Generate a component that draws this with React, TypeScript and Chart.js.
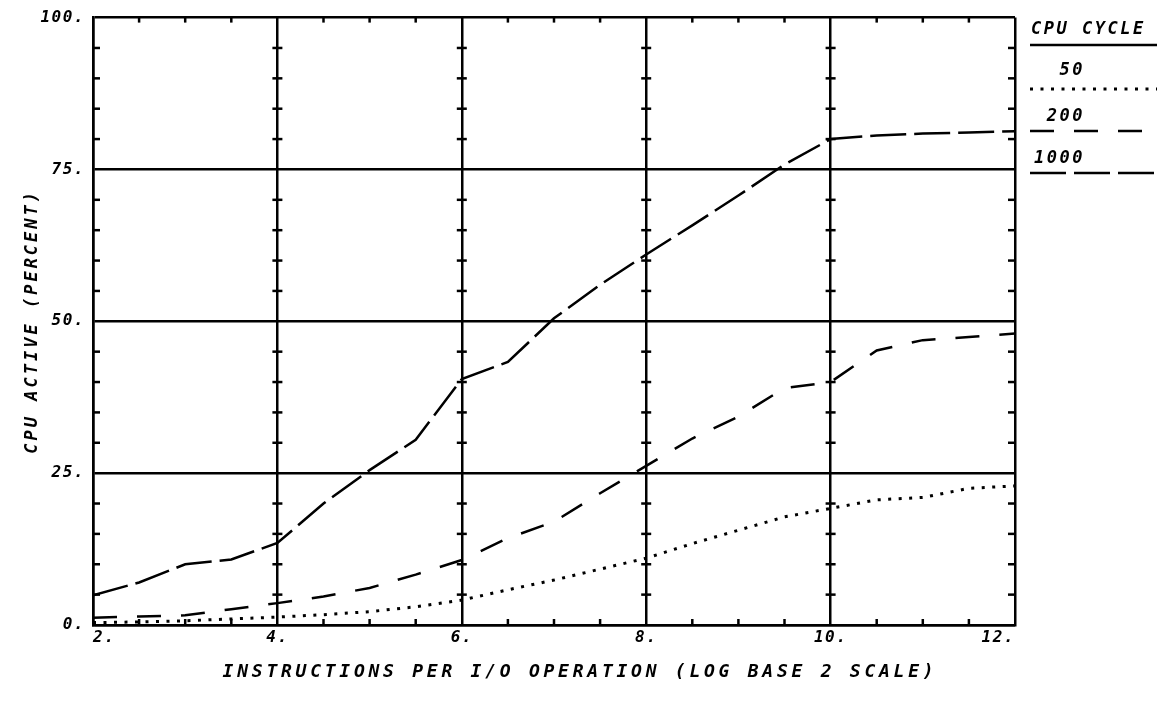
import React, { useEffect, useRef } from "react";
import { Chart, registerables } from "chart.js";

Chart.register(...registerables);

// ---- data ----
const xValues = [2, 2.5, 3, 3.5, 4, 4.5, 5, 5.5, 6, 6.5, 7, 7.5, 8, 8.5, 9, 9.5, 10, 10.5, 11, 11.5, 12];
const cycle50 = [0.4, 0.5, 0.7, 1.0, 1.3, 1.7, 2.2, 3.0, 4.1, 5.8, 7.4, 9.2, 11.0, 13.4, 15.6, 17.8, 19.2, 20.6, 21.0, 22.5, 22.9];
const cycle200 = [1.2, 1.4, 1.6, 2.6, 3.6, 4.7, 6.1, 8.3, 10.7, 14.3, 17.0, 21.7, 26.2, 30.7, 34.3, 39.0, 40.0, 45.2, 46.9, 47.4, 48.0];
const cycle1000 = [4.9, 7.0, 10.0, 10.8, 13.5, 20.0, 25.5, 30.5, 40.5, 43.3, 50.5, 56.0, 61.0, 65.8, 70.7, 75.8, 80.0, 80.6, 80.9, 81.1, 81.3];
const seriesLabels = ["50", "200", "1000"];
const legendTitle = "CPU CYCLE";
const xTitle = "INSTRUCTIONS PER I/O OPERATION (LOG BASE 2 SCALE)";
const yTitle = "CPU ACTIVE (PERCENT)";
const xMin = 2;
const xMax = 12;
const xStep = 2;
const xMinorStep = 0.5;
const yMin = 0;
const yMax = 100;
const yStep = 25;
const yMinorStep = 5;

const FAMILY = "'DejaVu Sans Mono', 'Liberation Mono', monospace";

function seg(ctx: CanvasRenderingContext2D, x1: number, y1: number, x2: number, y2: number) {
  ctx.beginPath();
  ctx.moveTo(x1, y1);
  ctx.lineTo(x2, y2);
  ctx.stroke();
}

const plotterPlugin = {
  id: "plotter",
  beforeDraw(chart: any) {
    (chart.ctx as any).letterSpacing = "1.5px";
  },
  afterDraw(chart: any) {
    const ctx: CanvasRenderingContext2D = chart.ctx;
    const a = chart.chartArea;
    const xs = chart.scales.x;
    const ys = chart.scales.y;
    ctx.save();
    ctx.strokeStyle = "#000";
    ctx.lineWidth = 2.5;
    ctx.setLineDash([]);
    // minor x ticks on top and bottom edges
    for (let v = xMin; v <= xMax + 1e-9; v += xMinorStep) {
      if (Math.abs(v % xStep) < 1e-9) continue;
      const px = xs.getPixelForValue(v);
      seg(ctx, px, a.bottom + 1, px, a.bottom - 6);
      seg(ctx, px, a.top - 1, px, a.top + 5);
    }
    // minor y ticks on every vertical grid line
    for (let xv = xMin; xv <= xMax + 1e-9; xv += xStep) {
      const px = xs.getPixelForValue(xv);
      for (let v = yMin + yMinorStep; v < yMax; v += yMinorStep) {
        if (Math.abs(v % yStep) < 1e-9) continue;
        const py = ys.getPixelForValue(v);
        if (xv === xMin) seg(ctx, px - 1, py, px + 7, py);
        else if (xv === xMax) seg(ctx, px - 7, py, px + 1, py);
        else seg(ctx, px - 5, py, px + 5, py);
      }
    }

    // titles
    ctx.fillStyle = "#000";
    (ctx as any).letterSpacing = "3.75px";
    ctx.font = `italic bold 18px ${FAMILY}`;
    ctx.textAlign = "center";
    ctx.textBaseline = "middle";
    ctx.fillText(xTitle, 580, 672);

    ctx.save();
    (ctx as any).letterSpacing = "3px";
    ctx.font = `italic bold 17px ${FAMILY}`;
    ctx.translate(33, (a.top + a.bottom) / 2);
    ctx.rotate(-Math.PI / 2);
    ctx.fillText(yTitle, 0, 0);
    ctx.restore();

    // legend
    (ctx as any).letterSpacing = "2.5px";
    ctx.font = `italic bold 17px ${FAMILY}`;
    ctx.textAlign = "left";
    ctx.fillText(legendTitle, 1031, 30);
    ctx.lineWidth = 2.5;
    ctx.setLineDash([]);
    seg(ctx, 1030, 45, 1157, 45);

    const labelY = [71, 117, 159];
    const lineY = [89, 131, 173];
    ctx.textAlign = "right";
    chart.data.datasets.forEach((ds: any, i: number) => {
      ctx.fillText(ds.label, 1085, labelY[i]);
      ctx.save();
      ctx.lineWidth = ds.borderWidth;
      ctx.setLineDash(ds.borderDash || []);
      seg(ctx, 1030, lineY[i], 1157, lineY[i]);
      ctx.restore();
    });
    ctx.restore();
  },
};

export default function App() {
  const ref = useRef<HTMLCanvasElement | null>(null);
  useEffect(() => {
    document.body.style.margin = "0";
    const canvas = ref.current;
    if (!canvas) return;
    const toPts = (arr: number[]) => arr.map((v, i) => ({ x: xValues[i], y: v }));
    const base = { pointRadius: 0, borderColor: "#000", borderWidth: 2.5, tension: 0, fill: false, borderCapStyle: "butt" };
    const tickFont = { family: FAMILY, size: 16, style: "italic", weight: "bold" };
    const chart = new Chart(canvas, {
      type: "line",
      data: {
        datasets: [
          { ...base, label: seriesLabels[0], data: toPts(cycle50), borderDash: [3, 7.5], borderWidth: 3 },
          { ...base, label: seriesLabels[1], data: toPts(cycle200), borderDash: [24, 20] },
          { ...base, label: seriesLabels[2], data: toPts(cycle1000), borderDash: [36, 8] },
        ] as any,
      },
      options: {
        animation: false,
        responsive: false,
        devicePixelRatio: 1,
        layout: { padding: { top: 17, right: 146, bottom: 0, left: 0 } },
        plugins: { legend: { display: false }, tooltip: { enabled: false } },
        scales: {
          x: {
            type: "linear",
            min: xMin,
            max: xMax,
            afterFit: (s: any) => { s.height = 78; },
            ticks: {
              stepSize: xStep,
              autoSkip: false,
              maxRotation: 0,
              align: "inner",
              padding: 3,
              color: "#000",
              font: tickFont,
              callback: (v: any) => `${v}.`,
            },
            grid: { color: "#000", lineWidth: 2.5, drawTicks: false },
            border: { color: "#000", width: 2.5 },
          },
          y: {
            type: "linear",
            min: yMin,
            max: yMax,
            afterFit: (s: any) => { s.width = 93; },
            ticks: {
              stepSize: yStep,
              padding: 8,
              color: "#000",
              font: tickFont,
              callback: (v: any) => `${v}.`,
            },
            grid: { color: "#000", lineWidth: 2.5, drawTicks: false },
            border: { color: "#000", width: 2.5 },
          },
        },
      } as any,
      plugins: [plotterPlugin],
    });
    return () => chart.destroy();
  }, []);
  return (
    <div style={{ width: 1161, height: 703, background: "#fff" }}>
      <canvas ref={ref} width={1161} height={703} style={{ display: "block" }} />
    </div>
  );
}
